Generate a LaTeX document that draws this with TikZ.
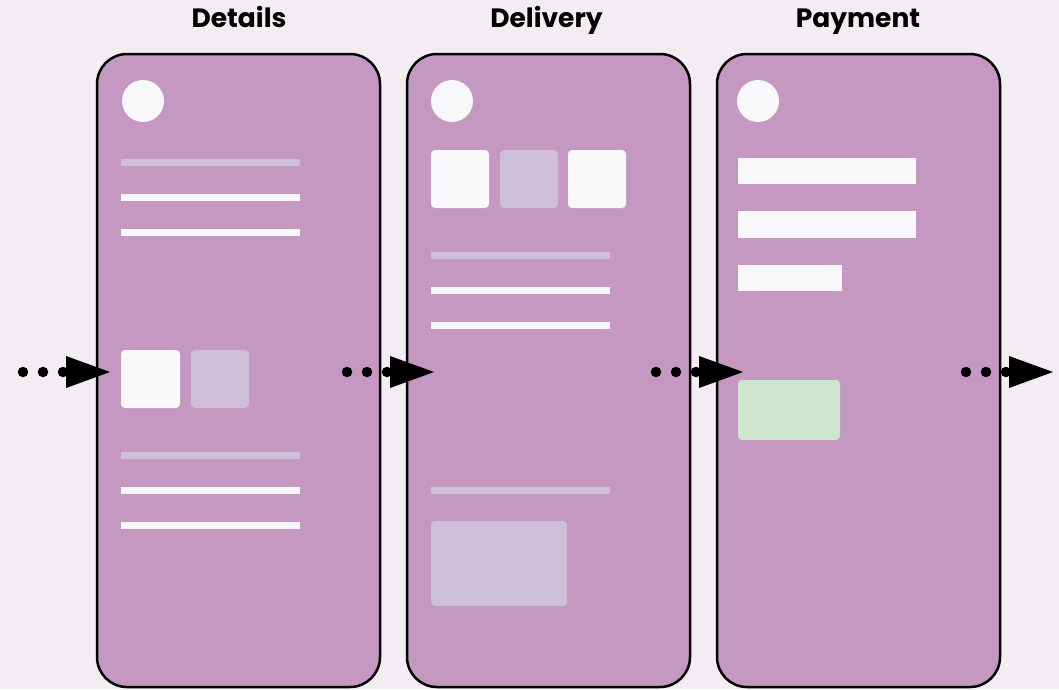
\documentclass[tikz,border=0pt]{standalone}
\usepackage{fontspec}
\setmainfont{Poppins}
\usetikzlibrary{arrows.meta}

\definecolor{pagebg}{HTML}{F3ECF3}
\definecolor{cardfill}{HTML}{C498C0}
\definecolor{blankfill}{HTML}{F8F8FA}
\definecolor{mutedfill}{HTML}{CEBFD8}
\definecolor{okfill}{HTML}{CDE6CD}

\tikzset{
  screen/.style={draw=black, line width=2.5pt, fill=cardfill, rounded corners=30pt,
    minimum width=283pt, minimum height=633pt, inner sep=0pt},
  heading/.style={font=\fontsize{26.5}{30}\selectfont\bfseries, anchor=base, inner sep=0pt},
  line/.style={fill=blankfill},
  muted/.style={fill=mutedfill},
  tile/.style={rounded corners=4pt},
  flow/.style={line width=10.5pt, line cap=round, dash pattern=on 0pt off 20pt,
    -{Triangle[length=44pt,width=32pt,line width=0pt]}},
}

\begin{document}
\begin{tikzpicture}[x=1pt,y=-1pt]
  \useasboundingbox[fill=pagebg] (0,0) rectangle (1059,689);

  % screens
  \node[screen] (details) at (238.5,370.5) {};
  \node[screen] (delivery) at (548.5,370.5) {};
  \node[screen] (payment) at (858.5,370.5) {};

  \node[heading] (detailstitle) at (239,27.5) {Details};
  \node[heading] (deliverytitle) at (546.5,27.5) {Delivery};
  \node[heading] (paymenttitle) at (858,27.5) {Payment};

  % details
  \fill[line] (143,101) circle (21);
  \fill[muted] (121,159) rectangle (300,166);
  \fill[line] (121,194) rectangle (300,201);
  \fill[line] (121,229) rectangle (300,236);
  \fill[line,tile] (121,350) rectangle (180,408);
  \fill[muted,tile] (191,350) rectangle (249,408);
  \fill[muted] (121,452) rectangle (300,459);
  \fill[line] (121,487) rectangle (300,494);
  \fill[line] (121,522) rectangle (300,529);

  % delivery
  \fill[line] (452,101) circle (21);
  \fill[line,tile] (431,150) rectangle (489,208);
  \fill[muted,tile] (500,150) rectangle (558,208);
  \fill[line,tile] (568,150) rectangle (626,208);
  \fill[muted] (431,252) rectangle (610,259);
  \fill[line] (431,287) rectangle (610,294);
  \fill[line] (431,322) rectangle (610,329);
  \fill[muted] (431,487) rectangle (610,494);
  \fill[muted,tile] (431,521) rectangle (567,606);

  % payment
  \fill[line] (758,101) circle (21);
  \fill[line] (738,158) rectangle (916,184);
  \fill[line] (738,211) rectangle (916,238);
  \fill[line] (738,265) rectangle (842,291);
  \fill[okfill,tile] (738,380) rectangle (840,440);

  % steps
  \foreach \s [count=\i] in {23,347,656,966}
    \draw[flow] (\s,372) coordinate (from\i) -- ++(87,0) coordinate (to\i);
\end{tikzpicture}
\end{document}
